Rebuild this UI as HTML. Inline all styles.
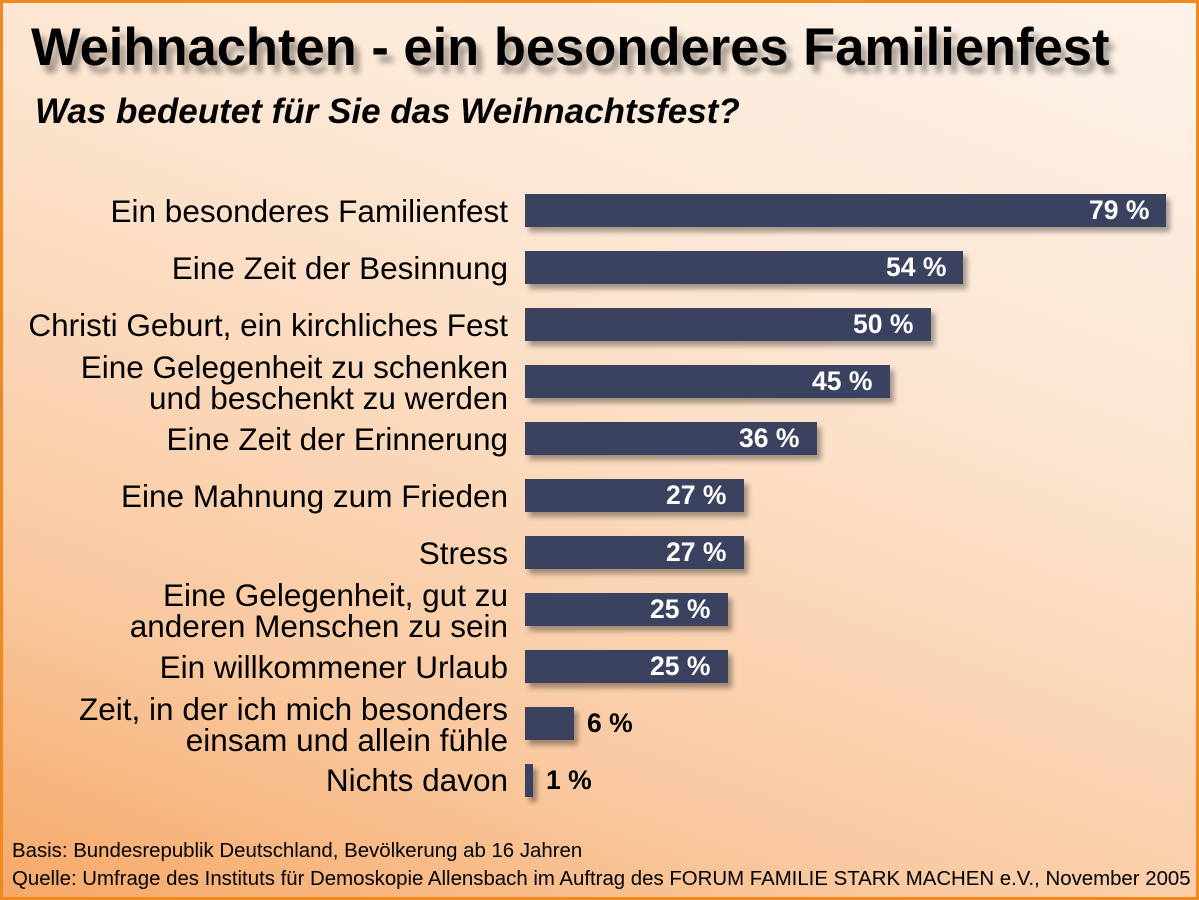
<!DOCTYPE html>
<html><head><meta charset="utf-8"><style>
*{margin:0;padding:0;box-sizing:border-box}
body{width:1199px;height:900px;overflow:hidden;font-family:"Liberation Sans",sans-serif}
#f{position:absolute;left:0;top:0;width:1199px;height:900px;box-shadow:inset 0 0 0 3px #f08a1e;
background:linear-gradient(200deg,#fdf3ea 0%,#fce6d2 35%,#f9c9a0 75%,#f6a868 100%);}
.t{position:absolute;left:31px;top:17px;font-size:52.5px;font-weight:bold;color:#000;text-shadow:6px 8px 6px rgba(0,0,0,0.35);white-space:nowrap}
.s{position:absolute;left:35px;top:92px;font-size:35px;font-weight:bold;font-style:italic;white-space:nowrap}
.l{position:absolute;right:691px;font-size:31.5px;text-align:right;line-height:31px;color:#000;white-space:nowrap}
.b{position:absolute;left:525px;height:33px;background:#3b4260;box-shadow:4px 5px 5px rgba(0,0,0,0.35)}
.v{position:absolute;font-size:26.5px;font-weight:bold;color:#fff;line-height:33px;white-space:nowrap}
.vo{color:#000}
.fo{position:absolute;left:12px;font-size:20.4px;white-space:nowrap}
</style></head><body><div id="f">
<div class="t">Weihnachten - ein besonderes Familienfest</div>
<div class="s">Was bedeutet für Sie das Weihnachtsfest?</div>

<div class="l" style="top:196px">Ein besonderes Familienfest</div>
<div class="b" style="top:194px;width:641px"></div><div class="v" style="top:194px;left:1089px">79 %</div>

<div class="l" style="top:253px">Eine Zeit der Besinnung</div>
<div class="b" style="top:251px;width:438px"></div><div class="v" style="top:251px;left:886px">54 %</div>

<div class="l" style="top:310px">Christi Geburt, ein kirchliches Fest</div>
<div class="b" style="top:308px;width:406px"></div><div class="v" style="top:308px;left:853px">50 %</div>

<div class="l" style="top:352px">Eine Gelegenheit zu schenken<br>und beschenkt zu werden</div>
<div class="b" style="top:365px;width:365px"></div><div class="v" style="top:365px;left:812px">45 %</div>

<div class="l" style="top:424px">Eine Zeit der Erinnerung</div>
<div class="b" style="top:422px;width:292px"></div><div class="v" style="top:422px;left:739px">36 %</div>

<div class="l" style="top:481px">Eine Mahnung zum Frieden</div>
<div class="b" style="top:479px;width:219px"></div><div class="v" style="top:479px;left:666px">27 %</div>

<div class="l" style="top:538px">Stress</div>
<div class="b" style="top:536px;width:219px"></div><div class="v" style="top:536px;left:666px">27 %</div>

<div class="l" style="top:580px">Eine Gelegenheit, gut zu<br>anderen Menschen zu sein</div>
<div class="b" style="top:593px;width:203px"></div><div class="v" style="top:593px;left:650px">25 %</div>

<div class="l" style="top:652px">Ein willkommener Urlaub</div>
<div class="b" style="top:650px;width:203px"></div><div class="v" style="top:650px;left:650px">25 %</div>

<div class="l" style="top:694px">Zeit, in der ich mich besonders<br>einsam und allein fühle</div>
<div class="b" style="top:707px;width:49px"></div><div class="v vo" style="top:707px;left:587px">6 %</div>

<div class="l" style="top:765px">Nichts davon</div>
<div class="b" style="top:764px;width:8px"></div><div class="v vo" style="top:764px;left:546px">1 %</div>

<div class="fo" style="top:840px">Basis: Bundesrepublik Deutschland, Bevölkerung ab 16 Jahren</div>
<div class="fo" style="top:868px">Quelle: Umfrage des Instituts für Demoskopie Allensbach im Auftrag des FORUM FAMILIE STARK MACHEN e.V., November 2005</div>
</div></body></html>
